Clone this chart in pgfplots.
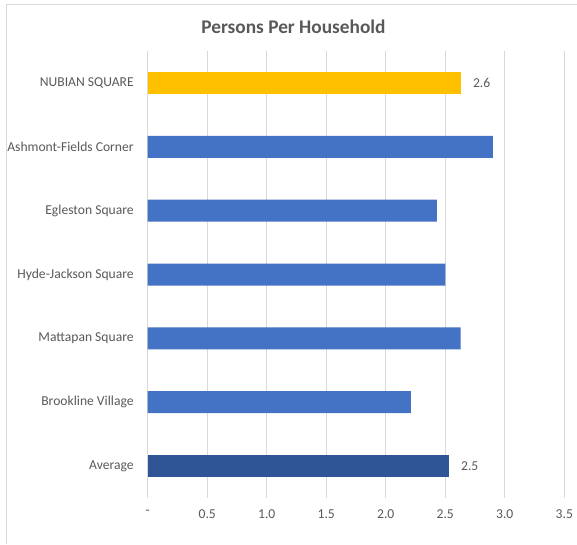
\documentclass[border=0pt]{standalone}
\usepackage{pgfplots}
\pgfplotsset{compat=1.18}
\usetikzlibrary{calc}
\usepackage{fontspec}
\setmainfont{Carlito}
\definecolor{gold}{HTML}{FFC000}
\definecolor{bblue}{HTML}{4472C4}
\definecolor{dblue}{HTML}{2F5597}
\definecolor{txt}{HTML}{595959}
\definecolor{gridc}{HTML}{D9D9D9}
\begin{document}
\begin{tikzpicture}
\begin{axis}[name=ax, at={(0pt,0pt)}, anchor=south west, scale only axis,
  width=312.45pt, height=335.25pt,
  xbar, bar width=16.5pt, bar shift=0pt,
  xmin=0, xmax=3.5, ymin=-0.5, ymax=6.5,
  ytick={0,1,2,3,4,5,6},
  yticklabels={Average, Brookline Village, Mattapan Square, Hyde-Jackson Square, Egleston Square, Ashmont-Fields Corner, NUBIAN SQUARE},
  xtick={0,0.5,1,1.5,2,2.5,3,3.5},
  xticklabels={-,0.5,1.0,1.5,2.0,2.5,3.0,3.5},
  xmajorgrids, ymajorgrids=false,
  grid style={gridc, line width=0.75pt},
  axis line style={draw=none}, major tick length=0pt,
  /pgf/number format/assume math mode=true,
  tick label style={font=\fontsize{10.2}{12}\selectfont, text=txt},
  xticklabel style={yshift=-5.5pt},
  yticklabel style={xshift=-7pt},
  clip=false,
  nodes near coords style={font=\fontsize{10.2}{12}\selectfont, text=txt},
]
\addplot[fill=gold, draw=none, nodes near coords, /pgf/number format/fixed, /pgf/number format/precision=1, /pgf/number format/fixed zerofill,
  every node near coord/.append style={anchor=west, xshift=5.7pt}] coordinates {(2.63,6)};
\addplot[fill=bblue, draw=none] coordinates {(2.90,5) (2.43,4) (2.50,3) (2.63,2) (2.21,1)};
\addplot[fill=dblue, draw=none, nodes near coords, /pgf/number format/fixed, /pgf/number format/precision=1, /pgf/number format/fixed zerofill,
  every node near coord/.append style={anchor=west, xshift=5.7pt}] coordinates {(2.53,0)};
\end{axis}
\coordinate (O) at ($(ax.south west)+(-110.775pt,-34.5pt)$);
\pgfresetboundingbox
\path[use as bounding box] (O) rectangle ($(O)+(432.75pt,408pt)$);
\draw[gridc, line width=0.75pt] ($(O)+(5.25pt,0pt)$) -- ($(O)+(5.25pt,404.25pt)$) -- ($(O)+(433.5pt,404.25pt)$);
\node[font=\bfseries\fontsize{14.5}{17}\selectfont, text=txt] at ($(O)+(220.1pt,387.75pt)$) {Persons Per Household};
\end{tikzpicture}
\end{document}
